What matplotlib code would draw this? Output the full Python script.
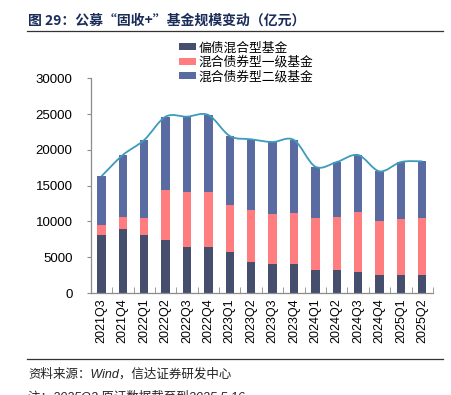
import numpy as np
import matplotlib
matplotlib.use("Agg")
import matplotlib.pyplot as plt
from matplotlib.path import Path
from matplotlib.patches import PathPatch
from matplotlib.lines import Line2D

plt.rcParams['font.family'] = ['Liberation Sans', 'Noto Sans CJK SC', 'DejaVu Sans']

# data (亿元)
quarters = ['2021Q3', '2021Q4', '2022Q1', '2022Q2', '2022Q3', '2022Q4',
            '2023Q1', '2023Q2', '2023Q3', '2023Q4', '2024Q1', '2024Q2',
            '2024Q3', '2024Q4', '2025Q1', '2025Q2']
bias_bond = [8150, 8900, 8150, 7450, 6470, 6470, 5690, 4380,
             4010, 4010, 3210, 3210, 2980, 2520, 2470, 2470]
bond_lvl1 = [1350, 1760, 2280, 6940, 7640, 7640, 6610, 7220,
             7070, 7130, 7310, 7450, 8340, 7540, 7910, 8010]
bond_lvl2 = [6800, 8620, 10950, 10250, 10530, 10760, 9640, 9870,
             10020, 10240, 7130, 7640, 7960, 6940, 7920, 7920]
labels = ['偏债混合型基金', '混合债券型一级基金', '混合债券型二级基金']

c_dark = '#454e6d'
c_pink = '#ff7c7f'
c_blue = '#5a6ba2'
c_line = '#3d9bbe'

x = np.arange(len(quarters))
a = np.array(bias_bond)
b = np.array(bond_lvl1)
c = np.array(bond_lvl2)
total = a + b + c

fig = plt.figure(figsize=(4.52, 3.95), dpi=100)
ax = fig.add_axes([0.2007, 0.2582, 0.7573, 0.5436])

w = 0.39
ax.bar(x, a, w, color=c_dark, label=labels[0])
ax.bar(x, b, w, bottom=a, color=c_pink, label=labels[1])
ax.bar(x, c, w, bottom=a + b, color=c_blue, label=labels[2])

# smoothed total line (catmull-rom -> bezier, like excel's smooth line)
pts = np.column_stack([x, total]).astype(float)
ext = np.vstack([pts[0], pts, pts[-1]])
verts = [tuple(pts[0])]
codes = [Path.MOVETO]
for i in range(len(pts) - 1):
    p0, p1, p2, p3 = ext[i], ext[i + 1], ext[i + 2], ext[i + 3]
    c1 = p1 + (p2 - p0) / 6
    c2 = p2 - (p3 - p1) / 6
    verts += [tuple(c1), tuple(c2), tuple(p2)]
    codes += [Path.CURVE4] * 3
ax.add_patch(PathPatch(Path(verts, codes), fill=False, edgecolor=c_line,
                       lw=1.3, zorder=3))

ax.set_xlim(-0.5, len(quarters) - 0.5)
ax.set_ylim(0, 30000)
ax.set_yticks(range(0, 30001, 5000))
ax.set_xticks(x)
ax.set_xticklabels(quarters, rotation=90, fontsize=9)
ax.set_xticks(np.arange(-0.5, len(quarters), 1), minor=True)
ax.tick_params(axis='x', which='major', length=0, pad=4)
ax.tick_params(axis='x', which='minor', direction='in', length=4, color='#8c8c8c')
ax.tick_params(axis='y', direction='out', length=3, color='#8c8c8c', labelsize=9.5, pad=10)
for s in ['top', 'right']:
    ax.spines[s].set_visible(False)
for s in ['left', 'bottom']:
    ax.spines[s].set_color('#8c8c8c')
    ax.spines[s].set_linewidth(0.9)

fig.legend(loc='upper left', bbox_to_anchor=(179 / 452, 1 - 42 / 395),
           frameon=False, fontsize=9.2, handlelength=1.3, handleheight=0.45,
           handletextpad=0.25, labelspacing=0.15, borderpad=0, borderaxespad=0)

# title and footer
fig.text(28 / 452, 1 - 25 / 395, '图 29：公募“固收+”基金规模变动（亿元）',
         fontsize=10, fontweight='bold', color='#1a2c58', va='baseline',
         family=['Noto Sans CJK SC', 'DejaVu Sans'])
fig.add_artist(Line2D([27 / 452, 443 / 452], [1 - 31 / 395] * 2,
                      color='#333333', lw=0.9))
fig.add_artist(Line2D([27 / 452, 443 / 452], [1 - 359 / 395] * 2,
                      color='#333333', lw=0.9))
fig.text(28 / 452, 1 - 378 / 395, '资料来源：Wind，信达证券研发中心',
         fontsize=9, style='italic', color='#222222', va='baseline')
fig.text(28 / 452, 1 - 401 / 395, '注：2025Q2 原证数据截至到2025.5.16',
         fontsize=9, style='italic', color='#222222', va='baseline')

fig.savefig('out.png', dpi=100)
